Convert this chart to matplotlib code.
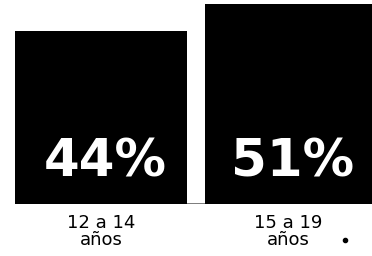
import matplotlib
matplotlib.use("Agg")
import matplotlib.pyplot as plt

# data
grupos = ["12 a 14\naños", "15 a 19\naños"]
valores = [44, 51]
etiquetas = ["44%", "51%"]

W, H = 372, 256
fig = plt.figure(figsize=(W / 100, H / 100), dpi=100)
fig.patch.set_facecolor("white")

# axes in pixel-ish layout: baseline at y=204, top of tallest bar at y=4
ax = fig.add_axes([15 / W, (H - 204) / H, (W - 15) / W, 200 / H])
ax.set_xlim(0, 357)
ax.set_ylim(0, max(valores))
ax.axis("off")

lefts = [0, 190]
widths = [172, 167]
ax.bar(lefts, valores, width=widths, align="edge", color="black", zorder=2)
ax.axhline(0, color="#666666", lw=1.2, zorder=1)

for x0, w, lab in zip(lefts, widths, etiquetas):
    ax.annotate(lab, xy=(x0 + w / 2 + 4, 0), xytext=(0, 19.5),
                textcoords="offset points", ha="center", va="baseline",
                color="white", fontsize=37, fontweight="bold",
                family="DejaVu Sans", zorder=3)

for x0, w, g in zip(lefts, widths, grupos):
    ax.annotate(g, xy=(x0 + w / 2, 0), xytext=(0, -7),
                textcoords="offset points", ha="center", va="top",
                color="black", fontsize=13, linespacing=0.95,
                family="DejaVu Sans")

# stray mark bottom right
fig.add_artist(plt.Line2D([345 / W], [1 - 240 / H], marker="o", markersize=3,
                          color="black", transform=fig.transFigure))

fig.savefig("out.png", dpi=100, facecolor="white")
